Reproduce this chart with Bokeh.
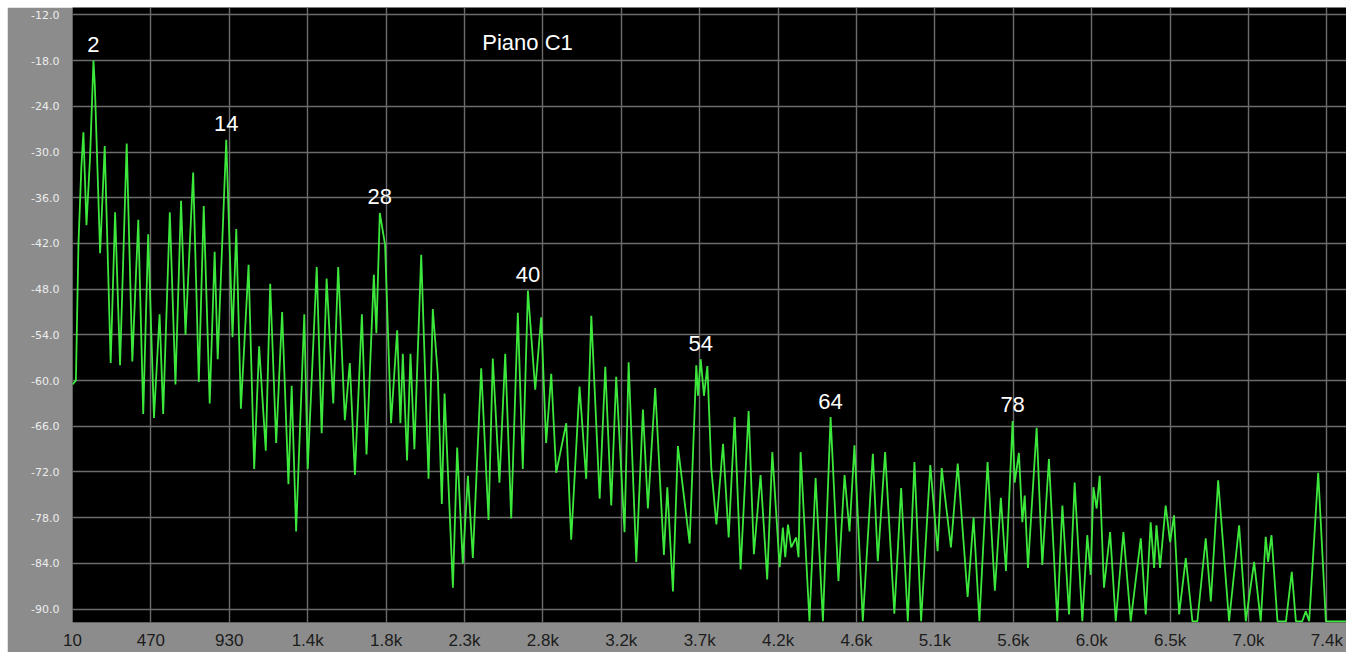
from bokeh.plotting import figure
from bokeh.models import Range1d, FixedTicker, PrintfTickFormatter, Label, LabelSet, ColumnDataSource
from bokeh.core.properties import value
from bokeh.embed import file_html
from bokeh.resources import INLINE

# Spectrum trace: frequency (Hz) and level (dB) of each vertex
freq_hz = [
    10, 30, 45, 62, 74, 92, 113, 133, 141, 172, 199, 234, 260, 289, 328, 361,
    396, 425, 454, 488, 521, 542, 581, 614, 647, 673, 718, 751, 780, 815, 844,
    862, 912, 949, 971, 998, 1043, 1076, 1105, 1144, 1170, 1205, 1240, 1277,
    1296, 1322, 1370, 1390, 1443, 1472, 1501, 1540, 1569, 1608, 1637, 1667,
    1708, 1735, 1778, 1793, 1813,
    1844, 1879, 1915, 1934, 1948, 1973, 1993, 2016, 2056, 2099, 2124, 2153,
    2177, 2193, 2242, 2267, 2300, 2330, 2359, 2408, 2451, 2476, 2515, 2549,
    2584, 2623, 2652, 2682, 2725, 2760, 2789, 2819, 2848, 2907, 2936, 2985,
    3024, 3054, 3103, 3136, 3171, 3200, 3249, 3273, 3318, 3357, 3386, 3429,
    3480, 3500, 3533, 3562, 3631, 3670,
    3680, 3696, 3715, 3735, 3758, 3788, 3827, 3860, 3895, 3930, 3977, 4008,
    4047, 4086, 4116, 4159, 4178, 4192, 4208, 4227, 4256, 4270, 4282, 4334,
    4370, 4413, 4458, 4504, 4540, 4569, 4598, 4647, 4706, 4735, 4778, 4832,
    4872, 4911, 4950, 4989, 5043, 5086, 5110, 5164, 5204, 5262, 5297, 5331,
    5379, 5422, 5457, 5487, 5526,
    5538, 5563, 5583, 5597, 5616, 5667, 5700, 5739, 5788, 5818, 5857, 5890,
    5935, 5964, 5984, 6000, 6019, 6037, 6062, 6098, 6131, 6176, 6219, 6278,
    6307, 6336, 6356, 6370, 6391, 6424, 6450, 6473, 6503, 6542, 6581, 6610,
    6659, 6689, 6732, 6796, 6855, 6894, 6943, 6982, 7011, 7025, 7045, 7080,
    7130, 7164, 7188, 7225, 7246, 7266, 7319, 7364, 7485,
]
level_db = [
    -60.5, -60.0, -42.0, -32.0, -27.4, -39.6, -30.7, -18.0, -21.2, -43.3, -29.2,
    -57.7, -37.9, -58.0, -28.9, -57.5, -38.9, -64.4, -40.8, -64.9, -51.3, -64.4,
    -37.9, -60.5, -36.4, -54.0, -32.7, -60.2, -37.1, -63.0, -43.1, -57.2, -28.4,
    -54.3, -40.1, -63.7, -44.8, -71.6, -55.5, -69.2, -47.3, -68.2, -51.0, -73.6,
    -60.7, -79.8, -51.3, -71.6, -45.1, -66.9, -46.6, -63.0, -45.1, -65.2, -57.7,
    -72.4, -51.3, -69.7, -46.1, -53.8, -38.0,
    -42.2, -65.6, -53.4, -65.6, -56.5, -70.5, -56.5, -69.0, -43.5, -72.9, -50.6,
    -59.1, -76.2, -61.7, -87.2, -68.8, -84.0, -72.5, -83.3, -58.4, -78.3, -57.1,
    -73.4, -56.5, -78.1, -51.1, -71.6, -48.2, -61.2, -51.7, -68.2, -59.1, -72.1,
    -65.6, -80.9, -60.8, -72.9, -51.5, -75.5, -58.2, -76.4, -59.5, -79.9, -57.6,
    -83.8, -63.8, -76.8, -61.0, -82.9, -74.0, -87.7, -68.6, -81.4, -58.0,
    -62.0, -57.2, -62.0, -58.1, -71.5, -78.9, -68.3, -80.6, -64.8, -84.8, -64.0,
    -82.8, -72.4, -86.1, -69.4, -84.5, -79.3, -83.2, -78.9, -81.9, -80.6, -83.2,
    -69.4, -91.6, -72.8, -91.6, -64.8, -86.3, -72.4, -79.8, -68.5, -91.6, -69.6,
    -83.7, -69.4, -90.6, -74.1, -91.6, -70.7, -91.6, -71.1, -82.4, -71.5, -81.9,
    -70.9, -88.4, -78.0, -91.6, -70.7, -87.6, -75.4, -85.0, -65.3,
    -73.4, -69.5, -78.6, -75.1, -84.6, -66.2, -84.2, -70.3, -91.6, -76.4, -90.7,
    -73.4, -91.6, -80.3, -85.5, -74.0, -76.8, -72.5, -87.2, -79.9, -91.6, -79.9,
    -91.6, -80.7, -90.7, -78.6, -84.6, -79.0, -84.6, -76.4, -81.2, -77.7, -90.7,
    -83.3, -91.6, -91.6, -80.7, -89.0, -73.1, -91.6, -79.0, -91.6, -83.8, -91.6,
    -80.5, -83.8, -80.3, -91.6, -91.6, -85.1, -91.6, -91.6, -90.3, -91.6, -72.1,
    -91.6, -91.6,
]

# Marked partials
harmonic_labels = ["2", "14", "28", "40", "54", "64", "78"]
harmonic_hz = [133, 912, 1813, 2682, 3696, 4458, 5526]
harmonic_db = [-18.0, -28.4, -38.0, -48.2, -57.2, -64.8, -65.3]

# Axis ticks
x_tick_hz = [10, 470, 930, 1390, 1850, 2310, 2770, 3230, 3690, 4150, 4610,
             5070, 5530, 5990, 6450, 6910, 7370]
x_tick_labels = ["10", "470", "930", "1.4k", "1.8k", "2.3k", "2.8k", "3.2k",
                 "3.7k", "4.2k", "4.6k", "5.1k", "5.6k", "6.0k", "6.5k",
                 "7.0k", "7.4k"]
y_tick_db = [-12, -18, -24, -30, -36, -42, -48, -54, -60, -66, -72, -78, -84, -90]

p = figure(
    width=1339, height=645, margin=(7, 0, 0, 7),
    output_backend="svg", toolbar_location=None,
    x_range=Range1d(10, 7485), y_range=Range1d(-91.76, -11.03),
    min_border_left=65, min_border_right=0, min_border_top=0, min_border_bottom=24,
    background_fill_color="black", border_fill_color="#8c8c8c",
    outline_line_color=None,
)

p.xaxis.ticker = FixedTicker(ticks=x_tick_hz)
p.xaxis.major_label_overrides = {t: s for t, s in zip(x_tick_hz, x_tick_labels)}
p.yaxis.ticker = FixedTicker(ticks=y_tick_db)
p.yaxis.formatter = PrintfTickFormatter(format="%.1f")

for ax in (p.xaxis, p.yaxis):
    ax.axis_line_color = None
    ax.major_tick_line_color = None
    ax.minor_tick_line_color = None

p.xaxis.major_label_text_font = "Liberation Sans"
p.xaxis.major_label_text_font_size = "17px"
p.xaxis.major_label_text_color = "#1c1c1c"
p.xaxis.major_label_standoff = 2

p.yaxis.major_label_text_font = "DejaVu Sans"
p.yaxis.major_label_text_font_size = "11px"
p.yaxis.major_label_text_color = "#ececec"
p.yaxis.major_label_standoff = 7

for g in (p.xgrid, p.ygrid):
    g.grid_line_color = "#6c6c6c"
    g.grid_line_width = 1.4

p.line(freq_hz, level_db, line_color="#3de83d", line_width=1.8)

src = ColumnDataSource(dict(x=harmonic_hz, y=harmonic_db, t=harmonic_labels))
p.add_layout(LabelSet(x="x", y="y", text="t", source=src, y_offset=16,
                      text_align="center", text_baseline="middle",
                      text_color="white", text_font=value("Liberation Sans"),
                      text_font_size=value("22px")))

p.add_layout(Label(x=2680, y=-15.6, text="Piano C1", text_align="center",
                   text_baseline="middle", text_color="white",
                   text_font="Liberation Sans", text_font_size="22px"))

open("out.html", "w").write(file_html(p, INLINE))
